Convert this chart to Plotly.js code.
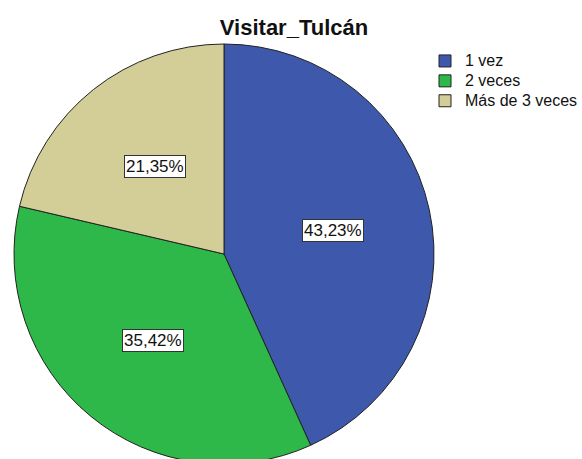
<!DOCTYPE html>
<html>
<head>
<meta charset="utf-8">
<script src="https://cdn.plot.ly/plotly-3.0.1.min.js"></script>
<style>
html, body { margin: 0; padding: 0; overflow: hidden; background: #fff; width: 582px; height: 459px; }
#chart { width: 582px; height: 470px; }
</style>
</head>
<body>
<div id="chart"></div>
<script>
const categories = ["1 vez", "2 veces", "Más de 3 veces"];
const percentages = [43.23, 35.42, 21.35];
const sliceColors = ["#3e58ac", "#2eb84a", "#d3ce97"];
const chartTitle = "Visitar_Tulcán";

const FONT = "'Liberation Sans', Arial, sans-serif";

const total = percentages.reduce((a, b) => a + b, 0);
const annotations = [];
let cum = 0;
const f = 0.53;
percentages.forEach((v) => {
  const mid = (cum + v / 2) / total * 2 * Math.PI;
  cum += v;
  annotations.push({
    xref: "paper", yref: "paper",
    x: 0.5 + 0.5 * f * Math.sin(mid),
    y: 0.5 + 0.5 * f * Math.cos(mid),
    text: v.toFixed(2).replace(".", ",") + "%",
    showarrow: false,
    font: { family: FONT, size: 17, color: "#111" },
    bgcolor: "#ffffff",
    bordercolor: "#333333",
    borderwidth: 1,
    borderpad: 1,
    xanchor: "center", yanchor: "middle"
  });
});

const data = [{
  type: "pie",
  labels: categories.map(c => '<span style="font-size:16px">' + c + '</span>'),
  values: percentages,
  sort: false,
  direction: "clockwise",
  rotation: 0,
  textinfo: "none",
  hoverinfo: "label+percent",
  marker: { colors: sliceColors, line: { color: "#222222", width: 1 } }
}];

const H = 470;
const layout = {
  width: 582, height: H,
  margin: { l: 14, r: 148, t: 44, b: 6, autoexpand: false },
  paper_bgcolor: "#ffffff",
  title: {
    text: "<b>" + chartTitle + "</b>",
    font: { family: FONT, size: 22, color: "#111" },
    xref: "container", yref: "container",
    x: 294 / 582, xanchor: "center",
    y: 1 - 27 / H, yanchor: "middle"
  },
  showlegend: true,
  legend: {
    xref: "container", yref: "container",
    x: 425 / 582, xanchor: "left",
    y: 1 - 46 / H, yanchor: "top",
    font: { family: FONT, size: 13, color: "#111" },
    bgcolor: "rgba(0,0,0,0)",
    tracegroupgap: 0
  },
  annotations: annotations
};

Plotly.newPlot("chart", data, layout, { displayModeBar: false, staticPlot: true });
</script>
</body>
</html>
